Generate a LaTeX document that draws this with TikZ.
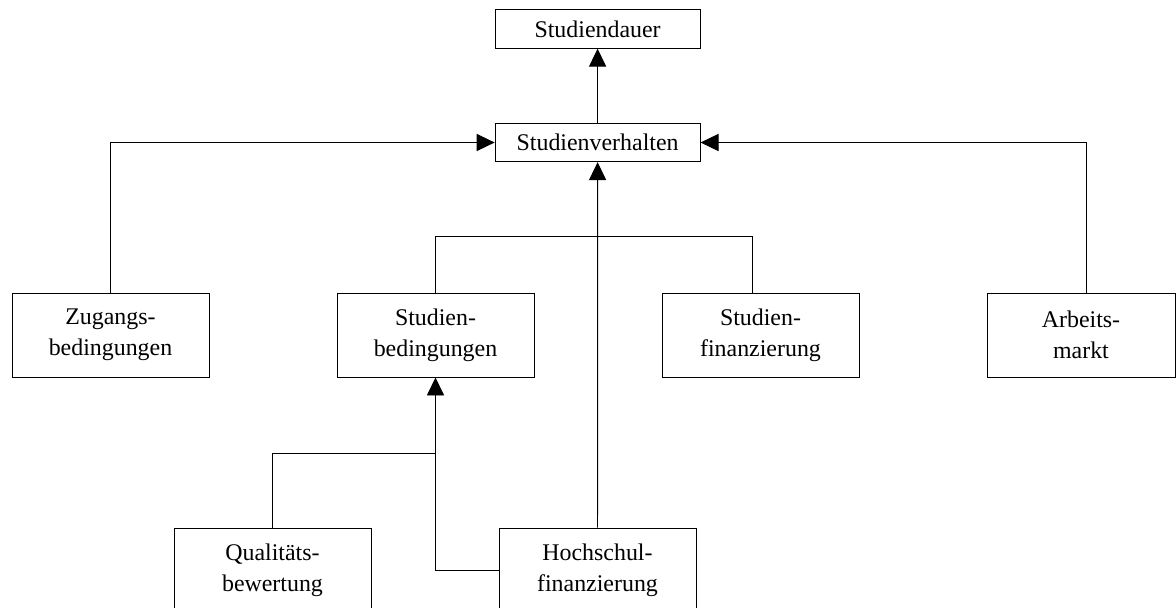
\documentclass[tikz,border=0pt]{standalone}
\usepackage{fontspec}
\setmainfont{Liberation Serif}
\usepackage{tikz}
\usetikzlibrary{arrows.meta}
\usetikzlibrary{positioning}

\begin{document}
\begin{tikzpicture}[-,line width=0.7pt,
  box node/.style={rectangle, draw, fill=white, align=center, inner sep=0pt, font=\fontsize{17}{22}\selectfont},
  wide node/.style={box node, minimum width=4.925cm, minimum height=2.1cm},
  top node/.style={box node, minimum width=5.125cm, minimum height=0.96cm},
  arr/.style={-{Triangle[length=0.45cm, width=0.43cm]}}]
			\useasboundingbox (0,0) rectangle (29.4,-15.175);
			% Nodes
			\node[top node] (dauer) at (14.94,-0.725) {Studiendauer};
			\node[top node] (verhalten) at (14.94,-3.5625) {Studienverhalten};
			
			\node[wide node] (zugang) at (2.7625,-8.375) {Zugangs-\\bedingungen};
			\node[wide node] (bedingung) at (10.8875,-8.375) {Studien-\\bedingungen};
			\node[wide node] (finanz) at (19.0125,-8.375) {Studien-\\finanzierung};
			\node[wide node, minimum width=4.7cm] (markt) at (27.025,-8.375) {Arbeits-\\markt};
			
			\node[wide node] (qualitaet) at (6.8125,-14.25) {Qualitäts-\\bewertung};
			\node[wide node] (hochschul) at (14.9375,-14.25) {Hochschul-\\finanzierung};
			
			% Connectors
			\draw[arr] (verhalten) -- (dauer);
			\draw[arr] (zugang.north) |- (verhalten.west);
			\draw[arr] ([xshift=0.125cm]markt.north) |- (verhalten.east);
			\draw (bedingung.north) -- ++(0,1.4) -| ([xshift=-0.19cm]finanz.north);
			\draw[arr] (hochschul.north) -- (verhalten.south);
			
			\coordinate (knot) at (bedingung.south |- 0,-11.325);
			\draw[arr] (qualitaet.north) |- (knot) -- (bedingung.south);
			\draw (knot) |- (hochschul.west);
			
		\end{tikzpicture}
\end{document}
